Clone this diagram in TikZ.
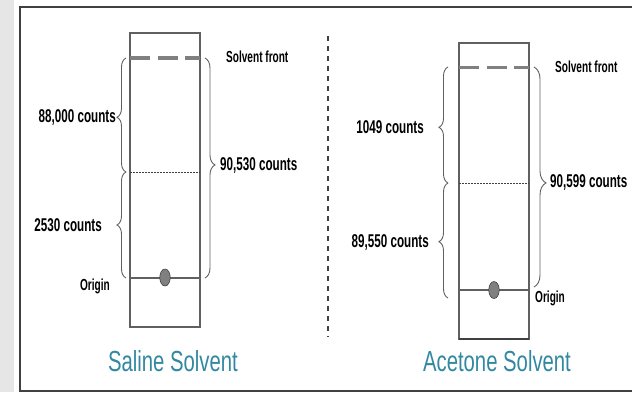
\documentclass[tikz,border=0pt]{standalone}
\usepackage{fontspec}
\usetikzlibrary{decorations.pathreplacing,shapes.geometric}
\newfontfamily\lblfont[FakeStretch=0.63]{Liberation Sans Bold}
\newfontfamily\ttlfont[FakeStretch=0.70]{Liberation Sans}
\definecolor{teal1}{RGB}{49,136,160}
\definecolor{stripgray}{RGB}{230,230,230}
\definecolor{framegray}{RGB}{64,64,64}
\definecolor{linegray}{RGB}{96,96,96}
\definecolor{frontgray}{RGB}{128,128,128}
\tikzset{
  plate/.style={draw=linegray, line width=1.1pt},
  front/.style={draw=frontgray, line width=3.2pt, dash pattern=on 20pt off 7.5pt},
  midline/.style={draw=framegray, line width=0.9pt, dash pattern=on 1.6pt off 1.4pt},
  origline/.style={draw=linegray, line width=1.5pt},
  spot/.style={ellipse, fill=frontgray, draw=framegray, line width=0.6pt},
  bracestyle/.style={draw=linegray, line width=0.9pt, decorate},
  lbl/.style={inner sep=0pt, font=\lblfont\fontsize{18.5}{18.5}\selectfont},
  small/.style={inner sep=0pt, font=\lblfont\fontsize{16}{16}\selectfont},
  ttl/.style={inner sep=0pt, text=teal1, font=\ttlfont\fontsize{29}{29}\selectfont},
}
\begin{document}
\begin{tikzpicture}[x=1pt,y=-1pt]
\useasboundingbox (0,0) rectangle (632,392);
\fill[stripgray] (0,0) rectangle (14,392);
\draw[framegray, line width=2pt] (633,7) -- (20,7) -- (20,391) -- (633,391);

% separator
\coordinate (sepT) at (328,36);
\coordinate (sepB) at (328,337);
\draw[draw=framegray, line width=1.8pt, dash pattern=on 5pt off 5pt] (sepT) -- (sepB);

% ---------------- left plate (saline)
\coordinate (LTL) at (130,33);
\coordinate (LBR) at (200,327);
\draw[plate] (LTL) rectangle (LBR);
\coordinate (LF1) at (130,58); \coordinate (LF2) at (200,58);
\draw[front] (LF1) -- (LF2);
\coordinate (LM1) at (130,172); \coordinate (LM2) at (200,172);
\draw[midline] (LM1) -- (LM2);
\coordinate (LO1) at (130,278); \coordinate (LO2) at (200,278);
\draw[origline] (LO1) -- (LO2);
\node[spot, minimum width=10.5pt, minimum height=17pt, inner sep=0pt] (Lspot) at (165,277.5) {};

\coordinate (LbA) at (126,172); \coordinate (LbB) at (126,58);
\draw[bracestyle, decoration={brace, amplitude=9pt, aspect=0.48}] (LbA) -- (LbB);
\coordinate (LbC) at (126,278); \coordinate (LbD) at (126,172);
\draw[bracestyle, decoration={brace, amplitude=9pt, aspect=0.5}] (LbC) -- (LbD);
\coordinate (LbE) at (205,58); \coordinate (LbF) at (205,278);
\draw[bracestyle, decoration={brace, amplitude=10pt, aspect=0.486}] (LbE) -- (LbF);

\node[small, anchor=west] (Lfront) at (226,57) {Solvent front};
\node[lbl, anchor=east] (L88) at (116,117) {88,000 counts};
\node[lbl, anchor=west] (L90) at (220,165) {90,530 counts};
\node[lbl, anchor=east] (L25) at (102,225) {2530 counts};
\node[small, anchor=east] (Lorig) at (110,286) {Origin};
\node[ttl] (Ltitle) at (173,361) {Saline Solvent};

% ---------------- right plate (acetone)
\coordinate (RTL) at (459,43);
\coordinate (RBR) at (529,339);
\draw[plate] (RTL) rectangle (RBR);
\coordinate (RB1) at (459,339); \coordinate (RB2) at (529,339);
\draw[draw=framegray, line width=2pt] (RB1) -- (RB2);
\coordinate (RF1) at (459,67.5); \coordinate (RF2) at (529,67.5);
\draw[front] (RF1) -- (RF2);
\coordinate (RM1) at (459,183); \coordinate (RM2) at (529,183);
\draw[midline] (RM1) -- (RM2);
\coordinate (RO1) at (459,290); \coordinate (RO2) at (529,290);
\draw[origline] (RO1) -- (RO2);
\node[spot, minimum width=10.5pt, minimum height=17pt, inner sep=0pt] (Rspot) at (494,290) {};

\coordinate (RbA) at (448,183); \coordinate (RbB) at (448,67);
\draw[bracestyle, decoration={brace, amplitude=9pt, aspect=0.48}] (RbA) -- (RbB);
\coordinate (RbC) at (448,298); \coordinate (RbD) at (448,183);
\draw[bracestyle, decoration={brace, amplitude=9pt, aspect=0.49}] (RbC) -- (RbD);
\coordinate (RbE) at (534,67); \coordinate (RbF) at (534,287);
\draw[bracestyle, decoration={brace, amplitude=12pt, aspect=0.527}] (RbE) -- (RbF);

\node[small, anchor=west] (Rfront) at (555,67) {Solvent front};
\node[lbl, anchor=east] (R10) at (424,127) {1049 counts};
\node[lbl, anchor=west] (R90) at (550,182) {90,599 counts};
\node[lbl, anchor=east] (R89) at (429,242) {89,550 counts};
\node[small, anchor=west] (Rorig) at (535,298) {Origin};
\node[ttl] (Rtitle) at (497,361) {Acetone Solvent};
\end{tikzpicture}
\end{document}
